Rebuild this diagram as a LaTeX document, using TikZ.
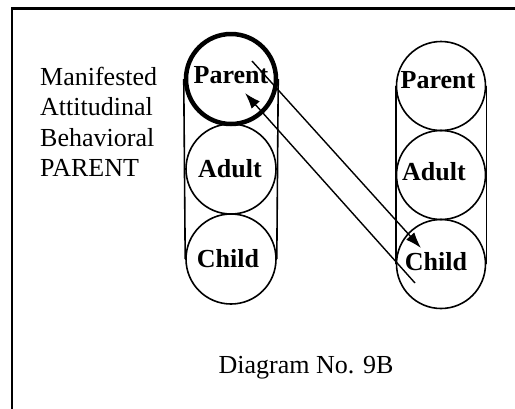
\documentclass[tikz,border=0pt]{standalone}
\usepackage{fontspec}
\setmainfont{Liberation Serif}
\usetikzlibrary{arrows.meta}
\begin{document}
\begin{tikzpicture}[x=1pt,y=-1pt,
  ego/.style={circle, draw, line width=1.6pt, minimum size=90pt, inner sep=0pt},
  egotext/.style={font=\fontsize{26}{30}\selectfont\bfseries, anchor=base, inner sep=0pt},
  plain/.style={font=\fontsize{26}{30}\selectfont, anchor=base west, inner sep=0pt},
  tube/.style={line width=1.6pt},
  flow/.style={line width=1.4pt, -{Latex[length=16pt,width=11pt]}}
]
\useasboundingbox (0,0) rectangle (515,408);
\clip (0,0) rectangle (515,408);
% page frame
\draw[line width=2.3pt] (12.2,430) |- (540,8.5);

% left ego-state column
\node[ego, line width=4.5pt] (LP) at (231,79) {};
\node[ego] (LA) at (231,169) {};
\node[ego] (LC) at (231,259) {};
\draw[tube] (LP.west) -- (LC.west);
\draw[tube] (LP.east) -- (LC.east);

% right ego-state column
\node[ego, minimum size=89pt] (RP) at (441,86) {};
\node[ego, minimum size=89pt] (RA) at (441,175) {};
\node[ego, minimum size=89pt] (RC) at (441,264) {};
\draw[tube] (RP.west) -- (RC.west);
\draw[tube] (RP.east) -- (RC.east);

% labels
\node[egotext] (tLP) at (231,83) {Parent};
\node[egotext] (tLA) at (230,177) {Adult};
\node[egotext] (tLC) at (228,267) {Child};
\node[egotext] (tRP) at (438,88) {Parent};
\node[egotext] (tRA) at (434,180) {Adult};
\node[egotext] (tRC) at (436,270) {Child};

\node[plain] (m1) at (40,85.5) {Manifested};
\node[plain] (m2) at (40,115.5) {Attitudinal};
\node[plain] (m3) at (40,146) {Behavioral};
\node[plain] (m4) at (40,176.5) {PARENT};

\node[font=\fontsize{26}{30}\selectfont, anchor=base, inner sep=0pt] (cap) at (306,373) {Diagram No. 9B};

% transactions
\coordinate (a1s) at (252,61);
\coordinate (a1e) at (421,248);
\coordinate (a2s) at (415,283);
\coordinate (a2e) at (245,93);
\draw[flow] (a1s) -- (a1e);
\draw[flow] (a2s) -- (a2e);
\end{tikzpicture}
\end{document}
